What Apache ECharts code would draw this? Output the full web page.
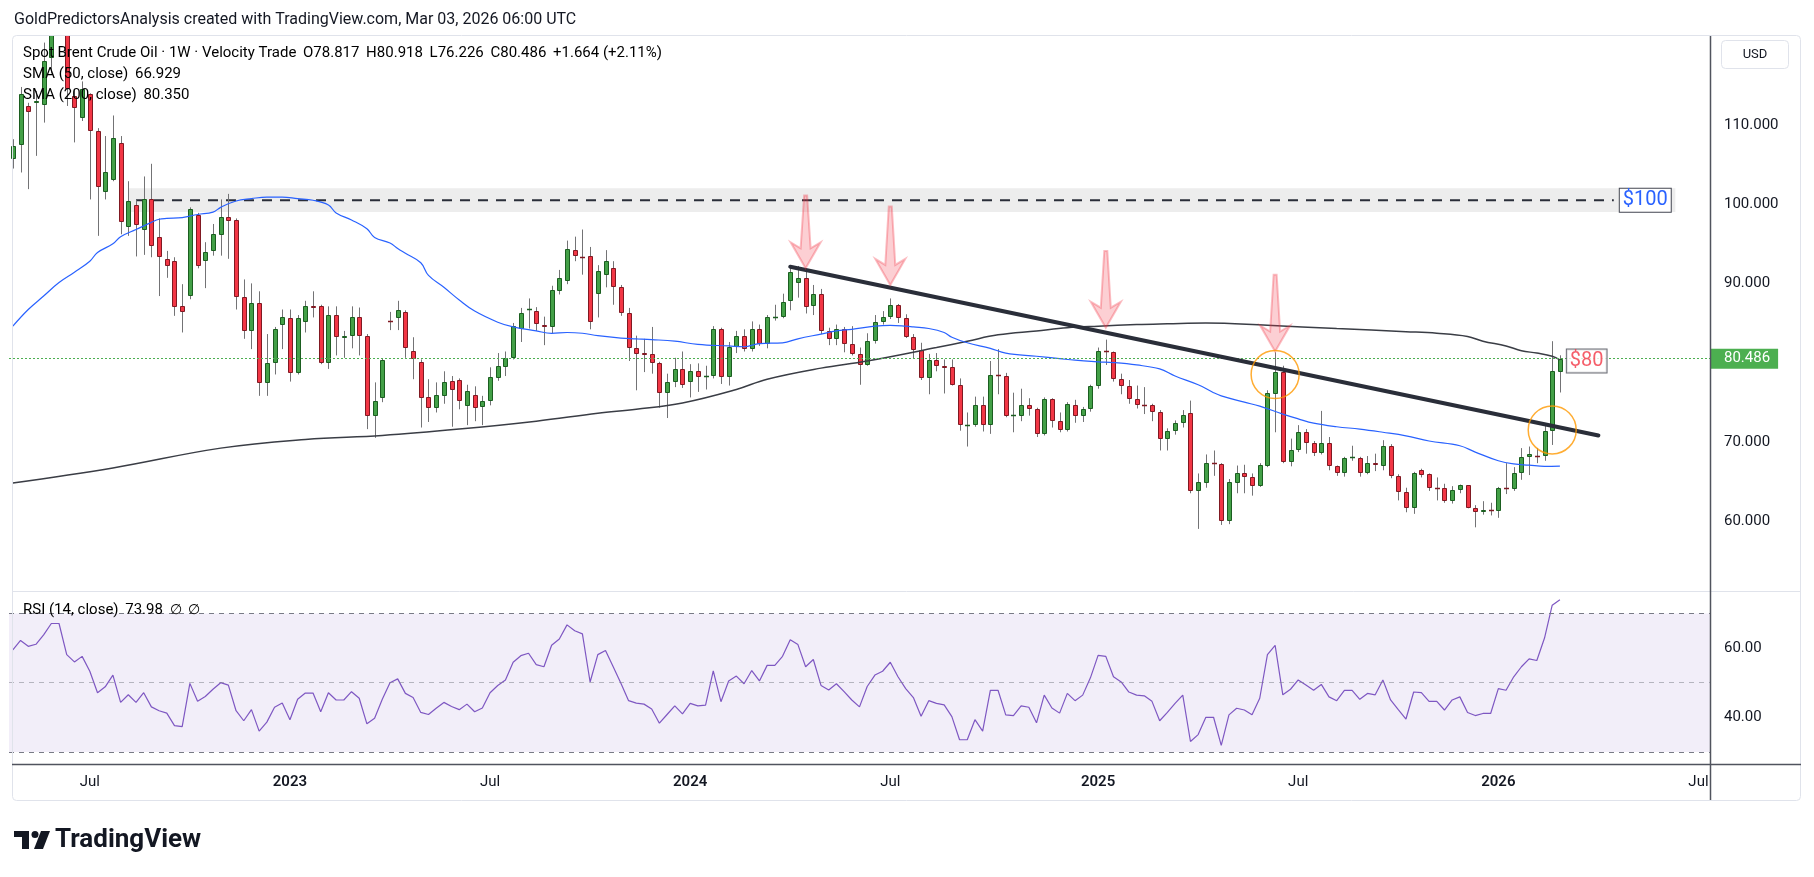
<!DOCTYPE html>
<html>
<head>
<meta charset="utf-8">
<title>Spot Brent Crude Oil 1W</title>
<script src="https://cdn.jsdelivr.net/npm/echarts@6/dist/echarts.min.js"></script>
<style>
  html, body { margin: 0; padding: 0; background: #fff; }
  #chart { width: 1814px; height: 877px; }
</style>
</head>
<body>
<div id="chart"></div>
<script>
// weekly bars, first one is the week of 2022-04-25
const firstWeek = Date.UTC(2022, 3, 25);
const futureWeeks = 19;

// [open, close, low, high]
const candles = [
  [105.7, 107.4, 104.5, 108.2], [107.5, 113.9, 104.0, 114.8], [112.4, 111.7, 101.9, 112.8], [112.75, 113.0, 106.1, 114.3],
  [112.5, 118.1, 110.3, 120.4], [118.5, 122.8, 116.5, 124.0], [122.5, 123.5, 121.5, 125.0], [122.0, 114.5, 112.4, 124.5],
  [113.7, 112.1, 107.8, 114.5], [110.9, 114.6, 110.5, 115.5], [113.9, 109.2, 100.6, 114.0], [109.3, 102.2, 96.0, 109.6],
  [101.5, 104.1, 100.6, 108.6], [103.0, 108.3, 102.9, 111.2], [107.7, 97.7, 96.2, 108.6], [97.1, 100.4, 96.0, 102.9],
  [99.9, 97.4, 93.4, 100.5], [96.8, 100.7, 93.6, 103.5], [100.7, 94.7, 93.3, 105.1], [95.9, 93.3, 88.4, 98.2],
  [93.1, 92.2, 90.7, 94.1], [92.8, 87.0, 85.9, 93.3], [87.2, 86.4, 83.8, 89.9], [88.4, 99.4, 88.0, 99.6],
  [98.6, 92.2, 91.9, 98.9], [92.8, 93.9, 89.4, 95.2], [94.1, 96.2, 93.5, 97.5], [96.1, 98.4, 93.5, 100.6],
  [98.4, 97.9, 93.1, 101.3], [98.0, 88.3, 86.7, 98.2], [88.3, 84.0, 83.0, 90.5], [84.0, 87.5, 81.7, 90.0],
  [87.5, 77.4, 75.8, 89.0], [77.4, 79.9, 75.8, 83.6], [79.9, 84.2, 78.5, 84.5], [84.8, 85.8, 81.7, 86.7],
  [85.6, 78.7, 77.6, 86.7], [78.7, 85.6, 78.5, 86.0], [85.1, 87.1, 83.8, 87.8], [87.1, 86.95, 85.7, 89.0],
  [87.1, 80.0, 79.8, 87.3], [80.0, 86.0, 79.2, 87.1], [86.0, 83.2, 80.9, 87.1], [83.15, 83.35, 80.6, 84.0],
  [83.3, 85.7, 81.8, 87.1], [85.7, 83.3, 80.9, 86.95], [83.3, 73.3, 71.6, 83.6], [73.3, 75.1, 70.5, 77.5],
  [75.5, 80.3, 75.0, 80.5], [85.3, 85.1, 84.1, 86.4], [85.6, 86.7, 84.1, 87.8], [86.4, 81.9, 80.6, 86.6],
  [81.4, 80.5, 77.9, 83.2], [80.1, 75.5, 71.8, 80.4], [75.6, 74.3, 72.5, 77.9], [74.3, 75.9, 73.7, 77.5],
  [75.8, 77.5, 74.8, 78.9], [77.7, 76.5, 71.9, 78.3], [77.8, 75.1, 74.1, 78.0], [74.5, 76.4, 72.1, 77.2],
  [75.9, 74.3, 72.6, 77.0], [74.4, 75.1, 72.1, 75.8], [75.1, 78.2, 74.6, 79.4], [78.0, 79.6, 77.7, 81.2],
  [79.4, 80.6, 78.3, 81.4], [80.6, 84.6, 80.4, 85.0], [84.3, 86.2, 82.6, 86.9], [86.6, 86.8, 84.3, 88.1],
  [86.5, 84.9, 84.0, 87.0], [84.8, 84.5, 82.2, 85.8], [84.5, 89.2, 83.7, 89.7], [89.1, 90.7, 88.6, 91.7],
  [90.3, 94.4, 89.9, 95.4], [94.2, 93.5, 92.8, 95.9], [93.3, 93.2, 91.1, 96.8], [93.4, 85.1, 84.2, 94.6],
  [88.6, 91.5, 85.7, 92.3], [91.1, 92.8, 89.5, 94.2], [91.9, 89.5, 87.3, 92.8], [89.5, 86.2, 85.9, 89.8],
  [86.2, 81.8, 80.2, 86.9], [81.8, 81.1, 76.5, 83.4], [81.15, 81.0, 78.8, 83.0], [81.1, 79.9, 78.6, 84.5],
  [79.9, 76.1, 74.3, 80.1], [76.1, 77.5, 73.0, 78.6], [77.5, 79.2, 76.9, 80.6], [79.2, 77.2, 76.8, 81.4],
  [77.6, 78.9, 75.6, 79.8], [78.9, 78.2, 76.3, 79.9], [78.3, 78.35, 76.6, 79.6], [78.3, 84.3, 78.0, 84.6],
  [84.3, 78.2, 77.3, 84.4], [78.2, 82.0, 77.1, 82.6], [82.0, 83.3, 81.2, 84.0], [83.3, 81.7, 81.4, 84.2],
  [81.7, 84.3, 81.4, 85.2], [84.3, 82.4, 82.1, 84.8], [82.4, 85.7, 81.8, 86.0], [85.7, 85.8, 85.3, 87.3],
  [85.7, 87.6, 85.6, 88.7], [87.8, 91.4, 86.6, 92.3], [90.1, 90.7, 88.2, 92.2], [90.7, 87.0, 86.2, 91.9],
  [87.1, 88.7, 86.0, 89.8], [88.7, 84.0, 83.6, 89.3], [84.0, 83.0, 82.2, 84.4], [83.0, 84.3, 82.2, 84.8],
  [84.3, 82.4, 81.3, 84.5], [82.4, 81.1, 80.9, 84.6], [81.1, 79.7, 77.2, 81.9], [79.7, 82.7, 79.6, 83.7],
  [82.7, 85.1, 82.4, 86.0], [85.1, 85.7, 84.8, 86.5], [85.7, 87.3, 85.5, 88.1], [87.3, 85.6, 85.0, 87.4],
  [85.6, 83.2, 83.1, 86.1], [83.2, 81.6, 80.5, 83.6], [81.6, 78.0, 77.8, 82.5], [78.0, 80.3, 76.0, 81.1],
  [80.3, 79.6, 78.9, 81.2], [79.6, 79.3, 76.1, 80.4], [79.4, 77.2, 77.1, 80.4], [77.2, 72.1, 71.4, 78.0],
  [72.1, 72.15, 69.4, 73.7], [72.1, 74.7, 71.9, 75.7], [74.7, 72.1, 71.3, 75.7], [72.1, 78.4, 71.0, 80.2],
  [78.4, 78.3, 76.0, 81.7], [78.3, 73.3, 73.1, 78.7], [73.3, 73.35, 71.2, 76.2], [73.2, 74.6, 72.6, 76.7],
  [74.6, 74.1, 73.3, 75.5], [74.1, 71.0, 70.6, 74.3], [71.0, 75.4, 70.8, 75.6], [75.4, 72.6, 71.8, 75.5],
  [72.6, 71.5, 71.2, 73.7], [71.5, 74.75, 71.3, 75.0], [74.7, 73.2, 72.4, 75.3], [73.2, 74.1, 72.5, 74.4],
  [74.1, 77.0, 73.8, 77.2], [77.0, 81.4, 76.7, 81.9], [81.4, 81.3, 79.7, 82.9], [81.3, 77.9, 77.6, 81.4],
  [77.9, 77.0, 76.0, 78.6], [77.1, 75.35, 74.8, 77.8], [75.35, 74.7, 74.2, 77.1], [74.7, 74.65, 73.5, 76.9],
  [74.6, 73.7, 72.6, 74.8], [73.7, 70.3, 68.9, 74.0], [70.3, 71.4, 68.9, 71.7], [71.3, 72.4, 70.9, 72.7],
  [72.4, 73.4, 71.8, 74.0], [73.6, 63.8, 63.5, 75.2], [63.8, 64.9, 59.0, 66.0], [64.85, 67.3, 64.2, 68.4],
  [67.3, 67.25, 65.7, 68.9], [67.2, 60.0, 59.5, 67.3], [60.0, 64.9, 59.6, 65.3], [64.85, 66.0, 63.5, 67.0],
  [66.0, 65.5, 63.5, 67.1], [65.5, 64.4, 63.2, 66.0], [64.4, 67.05, 64.3, 67.3], [66.96, 76.1, 66.8, 76.5],
  [76.0, 78.8, 71.2, 81.3], [78.8, 67.4, 67.3, 79.6], [67.5, 68.9, 66.9, 70.4], [68.9, 71.2, 68.7, 72.1],
  [71.2, 69.9, 68.5, 71.6], [69.9, 68.6, 68.2, 70.1], [68.6, 69.9, 68.4, 73.9], [69.9, 66.9, 66.4, 70.6],
  [66.9, 66.0, 65.7, 67.0], [66.0, 68.0, 65.6, 68.1], [68.0, 68.05, 67.6, 69.5], [68.0, 66.1, 65.6, 68.1],
  [66.1, 67.3, 65.9, 68.2], [67.3, 67.05, 66.3, 68.5], [66.96, 69.5, 66.4, 70.2], [69.5, 65.7, 65.4, 69.7],
  [65.7, 63.6, 62.6, 65.9], [63.6, 61.6, 61.1, 64.2], [61.6, 66.0, 60.9, 66.2], [66.4, 65.8, 65.5, 66.6],
  [65.9, 64.2, 63.8, 66.0], [64.2, 64.15, 62.6, 65.5], [64.2, 62.5, 62.3, 64.7], [62.5, 63.9, 62.2, 64.4],
  [63.9, 64.5, 63.5, 64.6], [64.5, 61.7, 61.6, 64.5], [61.7, 61.1, 59.2, 62.0], [61.1, 61.4, 60.8, 62.5],
  [61.35, 61.3, 60.7, 62.3], [61.3, 64.2, 60.4, 64.3], [64.2, 64.1, 63.4, 67.3], [64.1, 66.0, 63.8, 66.8],
  [66.0, 68.1, 65.2, 69.2], [68.1, 68.5, 65.8, 69.4], [68.2, 68.15, 67.3, 69.2], [68.2, 71.4, 67.6, 72.1],
  [71.4, 78.9, 69.6, 82.7], [78.817, 80.486, 76.226, 80.918]
];

const rsi = [
  59.5, 62.2, 60.5, 61.1, 63.8, 67.1, 67.1, 58.1, 56.0, 57.6,
  53.3, 47.1, 48.8, 52.2, 44.3, 46.5, 44.3, 47.1, 43.0, 41.9,
  41.2, 37.6, 37.3, 49.8, 44.6, 46.0, 48.1, 50.0, 49.3, 41.9,
  39.0, 42.2, 36.0, 38.6, 42.9, 44.1, 39.3, 45.2, 47.0, 47.0,
  41.6, 47.1, 45.0, 45.0, 47.4, 45.5, 38.1, 39.7, 45.2, 50.0,
  51.1, 46.9, 45.7, 41.4, 40.8, 42.6, 44.3, 43.1, 42.2, 43.8,
  41.6, 42.7, 47.1, 49.2, 50.8, 55.9, 57.8, 58.5, 55.2, 54.6,
  60.8, 62.6, 66.7, 65.0, 64.1, 50.2, 58.1, 59.3, 54.6, 49.8,
  44.8, 44.1, 43.8, 42.4, 38.3, 40.8, 43.3, 41.0, 44.0, 43.3,
  43.5, 53.4, 44.5, 50.5, 51.9, 49.7, 53.5, 50.5, 55.0, 55.0,
  57.6, 62.4, 61.0, 54.6, 56.7, 49.2, 47.9, 49.7, 47.4, 45.0,
  43.0, 48.9, 52.2, 53.3, 55.9, 51.7, 48.3, 45.7, 40.3, 44.8,
  44.0, 43.6, 40.2, 33.5, 33.5, 39.3, 36.0, 47.8, 47.8, 40.7,
  40.5, 43.3, 42.9, 38.4, 46.4, 42.7, 41.2, 46.9, 44.8, 46.4,
  51.4, 57.9, 57.6, 51.7, 50.2, 47.3, 46.4, 46.2, 44.6, 39.0,
  41.4, 44.0, 46.4, 33.0, 35.0, 40.0, 40.0, 31.9, 40.7, 42.6,
  42.1, 40.7, 45.5, 58.1, 60.8, 46.5, 48.1, 50.8, 49.3, 47.8,
  49.5, 45.9, 44.8, 47.8, 47.8, 45.2, 46.9, 46.5, 50.8, 45.0,
  42.2, 39.5, 47.3, 47.1, 44.6, 44.6, 42.1, 45.0, 45.9, 41.4,
  40.5, 41.1, 41.1, 48.3, 47.8, 51.7, 54.6, 56.9, 56.4, 62.9,
  72.4, 73.98
];

// [week index, value]
const sma50 = [
  [0, 84.6], [2, 86.7], [4, 88.4], [6, 90.1], [8, 91.4], [10, 92.8], [11, 93.9], [13, 95.0], [14, 95.9],
  [16, 96.8], [18, 97.7], [19, 98.1], [20, 98.2], [22, 98.3], [24, 98.7], [26, 99.0], [27, 99.6], [29, 100.4],
  [31, 100.7], [33, 100.9], [35, 100.9], [37, 100.7], [39, 100.5], [41, 99.9], [42, 98.9], [44, 98.0],
  [46, 96.9], [47, 95.8], [49, 95.1], [50, 94.4], [51, 93.8], [53, 92.6], [54, 91.0], [56, 89.5], [58, 87.9],
  [60, 86.5], [63, 85.1], [65, 84.5], [68, 84.0], [70, 83.7], [72, 83.8], [74, 83.7], [76, 83.4], [79, 83.1],
  [81, 83.0], [83, 82.9], [86, 82.7], [89, 82.3], [93, 82.1], [95, 82.0], [97, 82.4], [100, 82.5], [102, 83.0],
  [105, 83.6], [107, 84.0], [109, 84.2], [112, 84.6], [114, 84.7], [116, 84.6], [117, 84.5], [119, 84.3],
  [121, 83.8], [122, 83.2], [124, 82.5], [127, 81.8], [129, 81.2], [133, 80.8], [136, 80.5], [138, 80.3],
  [141, 80.1], [143, 80.0], [146, 79.7], [149, 79.2], [151, 78.3], [154, 77.2], [156, 76.2], [157, 75.8],
  [160, 75.0], [162, 74.5], [165, 73.5], [167, 72.9], [169, 72.35], [172, 71.9], [175, 71.6], [178, 71.2],
  [181, 70.75], [184, 70.1], [188, 69.5], [190, 68.7], [193, 67.6], [195, 67.2], [197, 67.05], [199, 66.9],
  [201, 66.93]
];
const sma200 = [
  [0, 64.8], [13, 66.7], [27, 69.2], [38, 70.3], [48, 70.8], [58, 71.6], [68, 72.6], [76, 73.6], [81, 74.1],
  [87, 74.9], [94, 76.6], [98, 77.9], [105, 79.3], [111, 80.2], [120, 81.9], [124, 82.7], [128, 83.5],
  [133, 84.0], [137, 84.4], [141, 84.6], [146, 84.8], [150, 84.9], [155, 85.0], [163, 84.7], [172, 84.3],
  [181, 83.9], [185, 83.7], [189, 83.3], [191, 82.7], [194, 82.1], [196, 81.5], [198, 81.2], [200, 80.8],
  [201, 80.35]
];

const trendLine = [[101, 92.1], [206, 70.8]];
const resistanceLine = [[16, 100.5], [208, 100.5]];
const resistanceBand = [15, 216, 99.0, 102.0];   // from week, to week, low, high
const arrows = [[103, 101.1, 91.9], [114, 99.7, 89.8], [142, 94.1, 84.4], [164, 91.1, 81.4]]; // week, top, tip
const circles = [[164, 78.5], [200, 71.5]];
const priceTag = [205, 80.2];
const lastPrice = 80.486;
const priceTicks = [60, 70, 90, 100, 110];
const rsiTicks = [40, 60];

const weeks = [];
for (let i = 0; i < candles.length + futureWeeks; i++) {
  weeks.push(new Date(firstWeek + i * 7 * 864e5).toISOString().slice(0, 10));
}

const FONT = 'Roboto, "Noto Sans", sans-serif';
const TEXT = '#131722';

function drawCandle(params, api) {
  const i = api.value(0);
  const o = api.value(1), c = api.value(2), lo = api.value(3), hi = api.value(4);
  const pTop = api.coord([i, Math.max(o, c)]);
  const pBot = api.coord([i, Math.min(o, c)]);
  const pHi = api.coord([i, hi]);
  const pLo = api.coord([i, lo]);
  const x = Math.round(pTop[0]);
  const up = c >= o;
  const yTop = Math.round(pTop[1]);
  const h = Math.round(pBot[1]) - yTop;
  const children = [{
    type: 'line',
    shape: { x1: x + 0.5, y1: pHi[1], x2: x + 0.5, y2: pLo[1] },
    style: { stroke: '#737375', lineWidth: 1 }
  }];
  if (h < 2) {
    children.push({
      type: 'line',
      shape: { x1: x - 2, y1: yTop + 0.5, x2: x + 3, y2: yTop + 0.5 },
      style: { stroke: up ? '#1b5e20' : '#801922', lineWidth: 1.5 }
    });
  } else {
    children.push({
      type: 'rect',
      shape: { x: x - 1.5, y: yTop + 0.5, width: 4, height: h - 1 },
      style: { fill: up ? '#43a047' : '#f23645', stroke: up ? '#1b5e20' : '#801922', lineWidth: 1 }
    });
  }
  return { type: 'group', children: children };
}

function drawArrow(params, api) {
  const top = api.coord([api.value(0), api.value(1)]);
  const tip = api.coord([api.value(0), api.value(2)]);
  const x = tip[0], y = tip[1], t = top[1];
  return {
    type: 'polygon',
    shape: { points: [[x - 1.5, t], [x + 1.5, t], [x + 5, y - 20], [x + 15, y - 26], [x, y], [x - 15, y - 26], [x - 5, y - 20]] },
    style: { fill: 'rgba(242,54,69,0.24)', stroke: 'rgba(242,54,69,0.32)', lineWidth: 2 }
  };
}

const myChart = echarts.init(document.getElementById('chart'));

myChart.setOption({
  animation: false,
  backgroundColor: '#ffffff',
  grid: [
    { left: 9, right: 104, top: 35, height: 556 },
    { left: 9, right: 104, top: 592, height: 172 }
  ],
  xAxis: [
    {
      type: 'category', gridIndex: 0, data: weeks,
      axisLine: { show: false }, axisTick: { show: false }, axisLabel: { show: false }, splitLine: { show: false }
    },
    {
      type: 'category', gridIndex: 1, data: weeks,
      axisLine: { show: false }, axisTick: { show: false }, splitLine: { show: false },
      axisLabel: {
        margin: 11,
        fontSize: 15,
        fontFamily: FONT,
        color: TEXT,
        interval: (idx, val) => {
          const m = +val.slice(5, 7), d = +val.slice(8, 10);
          return (m === 1 || m === 7) && d <= 7;
        },
        formatter: (val) => val.slice(5, 7) === '01' ? '{y|' + val.slice(0, 4) + '}' : 'Jul',
        rich: { y: { fontSize: 15, fontWeight: 600, fontFamily: FONT, color: TEXT } }
      }
    }
  ],
  yAxis: [
    {
      type: 'value', gridIndex: 0, position: 'right', min: 51.16, max: 121.36,
      splitLine: { show: false }, axisLine: { show: false }, axisTick: { show: false },
      axisLabel: {
        customValues: priceTicks, margin: 14, fontSize: 15, fontFamily: FONT, color: TEXT,
        formatter: (v) => v.toFixed(3)
      }
    },
    {
      type: 'value', gridIndex: 1, position: 'right', min: 26.5, max: 76.2,
      splitLine: { show: false }, axisLine: { show: false }, axisTick: { show: false },
      axisLabel: {
        customValues: rsiTicks, margin: 14, fontSize: 15, fontFamily: FONT, color: TEXT,
        formatter: (v) => v.toFixed(2)
      }
    }
  ],
  series: [
    {
      name: 'resistance',
      type: 'line',
      xAxisIndex: 0, yAxisIndex: 0,
      z: 1,
      data: resistanceLine,
      symbol: 'none',
      lineStyle: { color: '#2a2e39', width: 2, type: [10, 8] },
      endLabel: {
        show: true,
        formatter: '$100',
        distance: 6,
        color: '#2962ff',
        fontSize: 20,
        fontFamily: FONT,
        backgroundColor: '#ffffff',
        borderColor: '#434651',
        borderWidth: 1,
        padding: [2, 3, 1, 3]
      },
      markArea: {
        silent: true,
        itemStyle: { color: '#ededed' },
        data: [[
          { xAxis: resistanceBand[0], yAxis: resistanceBand[2] },
          { xAxis: resistanceBand[1], yAxis: resistanceBand[3] }
        ]]
      }
    },
    {
      name: 'Spot Brent Crude Oil',
      type: 'custom',
      xAxisIndex: 0, yAxisIndex: 0,
      z: 3,
      clip: true,
      renderItem: drawCandle,
      encode: { x: 0, y: [1, 2, 3, 4] },
      data: candles.map((c, i) => [i, c[0], c[1], c[2], c[3]]),
      markLine: {
        silent: true,
        symbol: 'none',
        lineStyle: { color: '#4caf50', width: 1, type: [2, 2] },
        label: {
          show: true,
          position: 'end',
          distance: 1,
          formatter: lastPrice.toFixed(3),
          color: '#ffffff',
          backgroundColor: '#4caf50',
          fontSize: 15,
          fontFamily: FONT,
          padding: [3, 8, 2, 13]
        },
        data: [{ yAxis: lastPrice }]
      }
    },
    {
      name: 'SMA 200',
      type: 'line',
      xAxisIndex: 0, yAxisIndex: 0,
      z: 4,
      data: sma200,
      smooth: 0.4,
      symbol: 'none',
      lineStyle: { color: '#3a3d45', width: 1.5 }
    },
    {
      name: 'SMA 50',
      type: 'line',
      xAxisIndex: 0, yAxisIndex: 0,
      z: 4,
      data: sma50,
      smooth: 0.4,
      symbol: 'none',
      lineStyle: { color: '#2962ff', width: 1.2 }
    },
    {
      name: 'trend',
      type: 'line',
      xAxisIndex: 0, yAxisIndex: 0,
      z: 5,
      data: trendLine,
      symbol: 'none',
      lineStyle: { color: '#2a2e39', width: 4, cap: 'round' }
    },
    {
      name: 'arrows',
      type: 'custom',
      xAxisIndex: 0, yAxisIndex: 0,
      z: 6,
      renderItem: drawArrow,
      data: arrows
    },
    {
      name: 'circles',
      type: 'scatter',
      xAxisIndex: 0, yAxisIndex: 0,
      z: 6,
      symbolSize: 48,
      itemStyle: { color: 'rgba(0,0,0,0)', borderColor: '#ff9800', borderWidth: 1.5 },
      data: circles
    },
    {
      name: 'tag',
      type: 'scatter',
      xAxisIndex: 0, yAxisIndex: 0,
      z: 7,
      symbolSize: 0,
      data: [priceTag],
      label: {
        show: true,
        position: 'inside',
        offset: [-4, 0],
        formatter: '$80',
        color: '#f23645',
        fontSize: 20,
        fontFamily: FONT,
        backgroundColor: '#ffffff',
        borderColor: '#434651',
        borderWidth: 1,
        padding: [2, 3, 1, 3]
      }
    },
    {
      name: 'RSI',
      type: 'line',
      xAxisIndex: 1, yAxisIndex: 1,
      data: rsi,
      symbol: 'none',
      lineStyle: { color: '#7e57c2', width: 1.2 },
      markArea: {
        silent: true,
        itemStyle: { color: 'rgba(126,87,194,0.1)' },
        data: [[{ yAxis: 30 }, { yAxis: 70 }]]
      },
      markLine: {
        silent: true,
        symbol: 'none',
        label: { show: false },
        data: [
          { yAxis: 70, lineStyle: { color: '#787b86', type: [5, 5], width: 1 } },
          { yAxis: 50, lineStyle: { color: 'rgba(120,123,134,0.5)', type: [5, 5], width: 1 } },
          { yAxis: 30, lineStyle: { color: '#787b86', type: [5, 5], width: 1 } }
        ]
      }
    }
  ],
  graphic: [
    // chart frame and pane separators
    { type: 'rect', z: 100, silent: true, shape: { x: 12.5, y: 35.5, width: 1788, height: 765, r: 4 },
      style: { fill: 'none', stroke: '#e0e3eb', lineWidth: 1 } },
    { type: 'line', z: 100, silent: true, shape: { x1: 12, y1: 591.5, x2: 1801, y2: 591.5 },
      style: { stroke: '#e0e3eb', lineWidth: 1 } },
    { type: 'line', z: 100, silent: true, shape: { x1: 12, y1: 764.5, x2: 1801, y2: 764.5 },
      style: { stroke: '#50535e', lineWidth: 1.5 } },
    { type: 'line', z: 100, silent: true, shape: { x1: 1710.5, y1: 36, x2: 1710.5, y2: 800 },
      style: { stroke: '#50535e', lineWidth: 1.5 } },
    { type: 'rect', z: 100, silent: true, shape: { x: 1721.5, y: 40.5, width: 67, height: 28, r: 4 },
      style: { fill: '#ffffff', stroke: '#e0e3eb', lineWidth: 1 } },
    { type: 'text', z: 101, silent: true, x: 1755, y: 54.5,
      style: { text: 'USD', font: '13px ' + FONT, fill: TEXT, align: 'center', verticalAlign: 'middle' } },

    // title line
    { type: 'text', z: 100, silent: true, x: 14, y: 20,
      style: { text: 'GoldPredictorsAnalysis created with TradingView.com, Mar 03, 2026 06:00 UTC',
        font: '16px ' + FONT, fill: TEXT, verticalAlign: 'middle' } },

    // legend
    { type: 'text', z: 100, silent: true, x: 23, y: 53,
      style: {
        text: '{t|Spot Brent Crude Oil · 1W · Velocity Trade}  {g|O78.817}  {g|H80.918}  {g|L76.226}  {g|C80.486}  {g|+1.664 (+2.11%)}',
        verticalAlign: 'middle',
        rich: {
          t: { fontSize: 15, fontFamily: FONT, color: '#434651' },
          g: { fontSize: 15, fontFamily: FONT, color: '#2e7d32' }
        }
      } },
    { type: 'text', z: 100, silent: true, x: 23, y: 74,
      style: {
        text: '{t|SMA (50, close)}  {b|66.929}',
        verticalAlign: 'middle',
        rich: {
          t: { fontSize: 15, fontFamily: FONT, color: '#434651' },
          b: { fontSize: 15, fontFamily: FONT, color: '#2962ff' }
        }
      } },
    { type: 'text', z: 100, silent: true, x: 23, y: 95,
      style: {
        text: '{t|SMA (200, close)}  {k|80.350}',
        verticalAlign: 'middle',
        rich: {
          t: { fontSize: 15, fontFamily: FONT, color: '#434651' },
          k: { fontSize: 15, fontFamily: FONT, color: '#2a2e39' }
        }
      } },
    { type: 'text', z: 100, silent: true, x: 23, y: 610,
      style: {
        text: '{t|RSI (14, close)}  {p|73.98}  {n|∅}  {n|∅}',
        verticalAlign: 'middle',
        rich: {
          t: { fontSize: 15, fontFamily: FONT, color: '#434651' },
          p: { fontSize: 15, fontFamily: FONT, color: '#7e57c2' },
          n: { fontSize: 14, fontFamily: FONT, color: '#787b86' }
        }
      } },

    // TradingView logo
    { type: 'rect', z: 100, silent: true, shape: { x: 14, y: 831, width: 15, height: 6 }, style: { fill: '#131722' } },
    { type: 'rect', z: 100, silent: true, shape: { x: 22, y: 831, width: 7, height: 18 }, style: { fill: '#131722' } },
    { type: 'circle', z: 100, silent: true, shape: { cx: 35, cy: 834.5, r: 3.5 }, style: { fill: '#131722' } },
    { type: 'polygon', z: 100, silent: true, shape: { points: [[41, 831], [50, 831], [43, 849], [34, 849]] }, style: { fill: '#131722' } },
    { type: 'text', z: 100, silent: true, x: 55, y: 840,
      style: { text: 'TradingView', font: 'bold 26px ' + FONT, fill: TEXT, verticalAlign: 'middle' } }
  ]
});

window.addEventListener('resize', () => {
  myChart.resize();
});
</script>
</body>
</html>
